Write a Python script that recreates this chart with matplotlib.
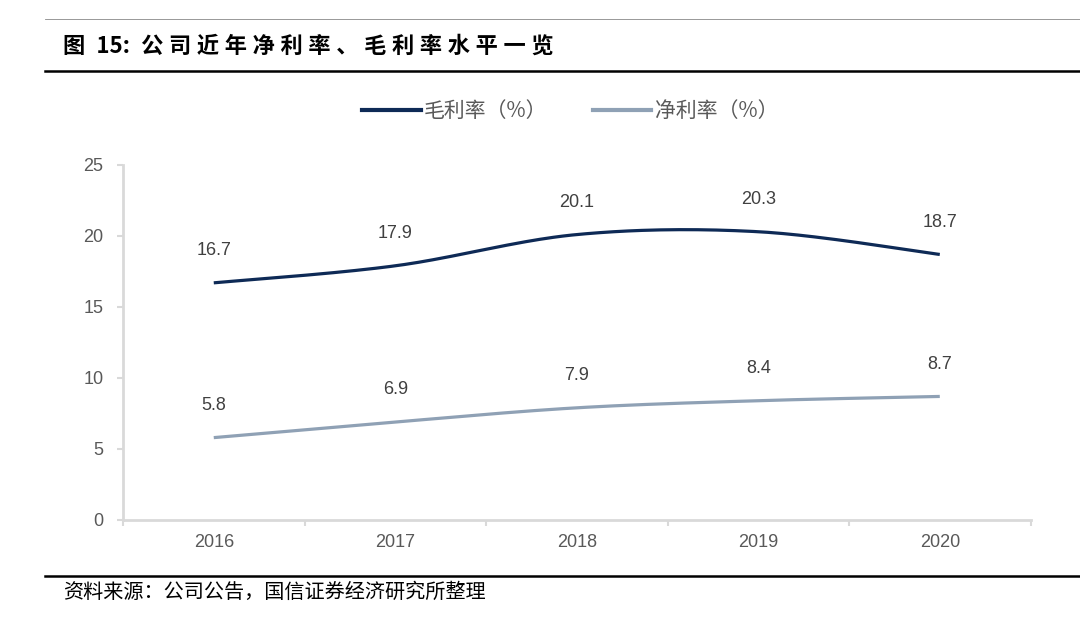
import numpy as np
import matplotlib
matplotlib.use("Agg")
import matplotlib.pyplot as plt
from matplotlib.lines import Line2D

plt.rcParams['font.family'] = ['Liberation Sans', 'Noto Sans CJK SC', 'DejaVu Sans']

years = ["2016", "2017", "2018", "2019", "2020"]
gross_margin = [16.7, 17.9, 20.1, 20.3, 18.7]
net_margin = [5.8, 6.9, 7.9, 8.4, 8.7]
series_names = ["毛利率（%）", "净利率（%）"]
yticks = [0, 5, 10, 15, 20, 25]
title_head = ["图", "15:"]
title_body = "公司近年净利率、毛利率水平一览"
source = "资料来源：公司公告，国信证券经济研究所整理"

c_gross = "#0E2A56"
c_net = "#8FA1B5"
grid_c = "#D9D9D9"
txt_c = "#595959"


def smooth(xs, ys, n=40):
    xs = np.asarray(xs, float)
    ys = np.asarray(ys, float)
    P = np.column_stack([xs, ys])
    Pe = np.vstack([P[0], P, P[-1]])
    out = []
    t = np.linspace(0, 1, n)[:, None]
    for i in range(len(P) - 1):
        p0, p3 = Pe[i + 1], Pe[i + 2]
        c1 = p0 + (Pe[i + 2] - Pe[i]) / 6.0
        c2 = p3 - (Pe[i + 3] - Pe[i + 1]) / 6.0
        seg = ((1 - t) ** 3) * p0 + 3 * ((1 - t) ** 2) * t * c1 + 3 * (1 - t) * t ** 2 * c2 + t ** 3 * p3
        out.append(seg if i == 0 else seg[1:])
    out = np.vstack(out)
    return out[:, 0], out[:, 1]


fig = plt.figure(figsize=(10.8, 6.37), dpi=100)
ax = fig.add_axes([0.1139, 0.1837, 0.8403, 0.5573])

x = np.arange(len(years))
for vals, col in [(gross_margin, c_gross), (net_margin, c_net)]:
    sx, sy = smooth(x, vals)
    ax.plot(sx, sy, color=col, lw=2.3, solid_capstyle='butt')
    for xi, v in zip(x, vals):
        ax.annotate(f"{v}", (xi, v), xytext=(0, 17), textcoords='offset points',
                    ha='center', va='bottom', fontsize=13, color="#404040")

ax.set_xlim(-0.5, len(years) - 0.5)
ax.set_ylim(0, 25)
ax.set_yticks(yticks)
ax.set_yticklabels([str(v) for v in yticks], fontsize=13, color=txt_c)
ax.set_xticks(x)
ax.set_xticklabels(years, fontsize=13, color=txt_c)
ax.set_xticks(np.arange(-0.5, len(years)), minor=True)
ax.tick_params(axis='x', which='major', length=0, pad=10)
ax.tick_params(axis='x', which='minor', length=4, width=1.5, color=grid_c, direction='out')
ax.tick_params(axis='y', which='major', length=4, width=1.5, color=grid_c, pad=10)
for s in ['top', 'right']:
    ax.spines[s].set_visible(False)
for s in ['left', 'bottom']:
    ax.spines[s].set_color(grid_c)
    ax.spines[s].set_linewidth(2)

handles = [Line2D([], [], color=c_gross, lw=3), Line2D([], [], color=c_net, lw=3)]
leg = fig.legend(handles, series_names, loc='center', bbox_to_anchor=(0.528, 0.826),
                 ncol=2, frameon=False, handlelength=2.8, handletextpad=0.15, columnspacing=2.2,
                 prop={'family': ['Noto Sans CJK SC'], 'size': 15})
for t in leg.get_texts():
    t.set_color(txt_c)

# Title (four-per-em spaces emulate the wide letter spacing of the original)
sp = "\u2005"
title = "\u2002".join(title_head) + "\u2002" + sp.join(title_body)
fig.text(0.058, 0.928, title, fontsize=16, fontweight='bold', ha='left', va='center',
         family=['Noto Sans CJK SC', 'DejaVu Sans'], color='black')
fig.add_artist(Line2D([0.042, 1.0], [0.97, 0.97], color='#888888', lw=0.6, transform=fig.transFigure))
fig.add_artist(Line2D([0.042, 1.0], [0.888, 0.888], color='black', lw=1.8, transform=fig.transFigure))
fig.add_artist(Line2D([0.042, 1.0], [0.096, 0.096], color='black', lw=1.8, transform=fig.transFigure))
fig.text(0.058, 0.070, source, fontsize=14.5, ha='left', va='center',
         family=['Noto Sans CJK SC'], color='black')

fig.savefig("out.png", dpi=100)
